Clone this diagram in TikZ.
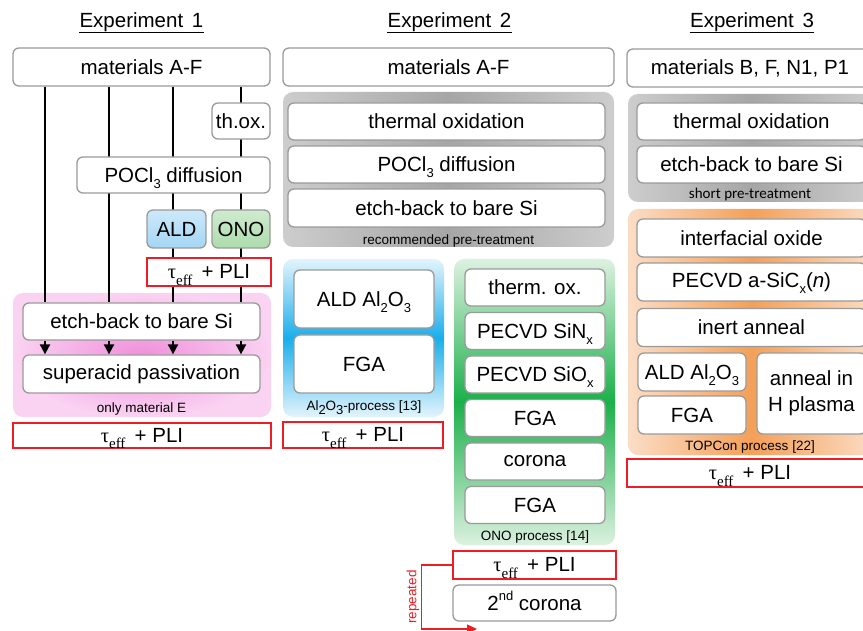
\documentclass[tikz,border=0pt]{standalone}
\usepackage{fontspec}
\setmainfont{Liberation Sans}
\newfontfamily\serif{Liberation Serif}
\newfontfamily\carl{Carlito}
\usetikzlibrary{arrows.meta}
\definecolor{bordergray}{HTML}{9A9A9A}
\definecolor{grayedge}{HTML}{CDCDCD}
\definecolor{graymid}{HTML}{A6A6A6}
\definecolor{blueedge}{HTML}{E3F4FC}
\definecolor{bluemid}{HTML}{1AAEEB}
\definecolor{greenedge}{HTML}{DCF1E0}
\definecolor{greenmid}{HTML}{1BB04A}
\definecolor{orangeedge}{HTML}{FBDDC6}
\definecolor{orangemid}{HTML}{F4A058}
\definecolor{pinkin}{HTML}{F08FDB}
\definecolor{pinkout}{HTML}{FAD2F2}
\definecolor{aldtop}{HTML}{CDE9FB}
\definecolor{aldbot}{HTML}{A4D6F5}
\definecolor{onotop}{HTML}{CFEBCF}
\definecolor{onobot}{HTML}{ACDCAC}
\definecolor{measred}{HTML}{EE1C25}
\newcommand\mainfs{\fontsize{20.5}{26}\selectfont}
\newcommand\smallfs{\fontsize{13.5}{15}\selectfont}
\newcommand\lowsub[1]{\raisebox{-0.3em}[0pt][0pt]{\fontsize{13}{13}\selectfont #1}}
\newcommand\highsup[1]{\raisebox{0.45em}[0pt][0pt]{\fontsize{13}{13}\selectfont #1}}
\newcommand\tpli{{\serif τ}\raisebox{-0.3em}[0pt][0pt]{\fontsize{15}{15}\selectfont\serif eff}\hspace{0.45em}+ PLI}
\begin{document}
\begin{tikzpicture}[x=1pt,y=-1pt,
  box/.style={draw=bordergray, line width=1.3pt, fill=white, rounded corners=6pt,
    inner sep=0pt, align=center, font=\mainfs},
  meas/.style={draw=measred, line width=1.6pt, fill=white, inner sep=0pt, font=\mainfs},
  bgbox/.style={rounded corners=10pt},
  lbl/.style={font=\smallfs, inner sep=0pt},
  title/.style={font=\mainfs, inner sep=0pt, anchor=base},
  flow/.style={line width=2pt, black},
  flowarr/.style={line width=2pt, black, -{Triangle[length=10pt,width=10pt]}},
  ]
\useasboundingbox (0,0) rectangle (863,631);
\clip (0,0) rectangle (863,631);

% ---------- titles ----------
\node[title] (t1) at (141.5,28) {Experiment\hspace{0.15em} 1};
\node[title] (t2) at (449.5,28) {Experiment\hspace{0.15em} 2};
\node[title] (t3) at (752,28) {Experiment\hspace{0.15em} 3};
\foreach \t in {t1,t2,t3}
  \draw[line width=1.2pt] ([yshift=-4.5pt]\t.base west) -- ([yshift=-4.5pt]\t.base east);

% ---------- backgrounds ----------
\shade[bgbox, inner color=pinkin, outer color=pinkout] (13,293) rectangle (271,417);
\shade[bgbox, left color=grayedge, right color=grayedge, middle color=graymid] (283,92) rectangle (614,247);
\shade[bgbox, top color=blueedge, bottom color=blueedge, middle color=bluemid] (283,259) rectangle (444,417);
\shade[bgbox, top color=greenedge, bottom color=greenedge, middle color=greenmid] (454,259) rectangle (615,545);
\shade[bgbox, left color=grayedge, right color=grayedge, middle color=graymid] (628,94) rectangle (875,202);
\shade[bgbox, left color=orangeedge, right color=orangeedge, middle color=orangemid] (628,209) rectangle (875,455);

% ---------- Experiment 1 ----------
\node[box, minimum width=257pt, minimum height=38pt] (m1) at (141.5,67) {materials A-F};
\node[box, minimum width=237pt, minimum height=37pt] (etch1) at (141.5,321.5) {etch-back to bare Si};
\node[box, minimum width=237pt, minimum height=38pt] (super) at (141.5,374) {superacid passivation};
\foreach \xx in {45,109,173,241}{
  \draw[flow] (m1.south -| \xx,0) -- (etch1.north -| \xx,0);
  \draw[flowarr] (etch1.south -| \xx,0) -- (super.north -| \xx,0);
}
\node[box, minimum width=58pt, minimum height=36pt] (thox1) at (241,121) {th.ox.};
\node[box, minimum width=193pt, minimum height=36pt] (pocl1) at (173.5,175) {POCl\lowsub{3} diffusion};
\node[box, top color=aldtop, bottom color=aldbot, minimum width=59pt, minimum height=38pt] (ald1) at (176.5,229) {ALD};
\node[box, top color=onotop, bottom color=onobot, minimum width=58pt, minimum height=38pt] (ono1) at (241,229) {ONO};
\node[meas, minimum width=124pt, minimum height=28pt] (meas1a) at (209,272) {\tpli};
\node[lbl] (l1) at (141.5,409) {only material E};
\node[meas, minimum width=258pt, minimum height=25pt] (meas1b) at (142,435.5) {\tpli};

% ---------- Experiment 2 ----------
\node[box, minimum width=331pt, minimum height=38pt] (m2) at (448.5,67) {materials A-F};
\node[box, minimum width=317pt, minimum height=37pt] (thox2) at (446.5,121.5) {thermal oxidation};
\node[box, minimum width=317pt, minimum height=37pt] (pocl2) at (446.5,164.5) {POCl\lowsub{3} diffusion};
\node[box, minimum width=317pt, minimum height=38pt] (etch2) at (446.5,208) {etch-back to bare Si};
\node[lbl] (l2) at (448.5,241) {recommended pre-treatment};

\node[box, minimum width=140pt, minimum height=58pt] (ald2) at (364,299) {ALD Al\lowsub{2}O\lowsub{3}};
\node[box, minimum width=140pt, minimum height=58pt] (fga2) at (364,364) {FGA};
\node[lbl] (l3) at (364,407) {Al\lowsub{2}O\lowsub{3}-process [13]};
\node[meas, minimum width=160pt, minimum height=26pt] (meas2a) at (363,435) {\tpli};

\node[box, minimum width=140pt, minimum height=37pt] (ox3) at (535,287.5) {therm. ox.};
\node[box, minimum width=140pt, minimum height=37pt] (sin) at (535,331) {PECVD SiN\lowsub{x}};
\node[box, minimum width=140pt, minimum height=37pt] (sio) at (535,374.5) {PECVD SiO\lowsub{x}};
\node[box, minimum width=140pt, minimum height=37pt] (fga3) at (535,418) {FGA};
\node[box, minimum width=140pt, minimum height=37pt] (cor) at (535,461.5) {corona};
\node[box, minimum width=140pt, minimum height=37pt] (fga4) at (535,505) {FGA};
\node[lbl] (l4) at (535,537) {ONO process [14]};
\node[meas, minimum width=163pt, minimum height=28pt] (meas2b) at (534.5,565) {\tpli};
\node[box, minimum width=163pt, minimum height=36pt] (cor2) at (534.5,603) {2\highsup{nd} corona};
\coordinate (rept) at (477,629);
\draw[measred, line width=1.3pt, -{Triangle[length=10pt,width=9pt]}] (meas2b.west) -- ++(-31,0) |- (rept);
\node[lbl, text=measred, rotate=90] (rep) at (413,597) {repeated};

% ---------- Experiment 3 ----------
\node[box, minimum width=246pt, minimum height=38pt] (m3) at (750,68) {materials B, F, N1, P1};
\node[box, minimum width=229pt, minimum height=37pt] (thox4) at (751.5,121.5) {thermal oxidation};
\node[box, minimum width=229pt, minimum height=37pt] (etch4) at (751.5,164.5) {etch-back to bare Si};
\node[lbl, font=\carl\fontsize{15}{17}\selectfont] (l5) at (750,195) {short pre-treatment};
\node[box, minimum width=229pt, minimum height=38pt] (iox) at (751.5,238) {interfacial oxide};
\node[box, minimum width=229pt, minimum height=38pt] (sicx) at (751.5,282) {PECVD a-SiC\lowsub{x}(\textit{n})};
\node[box, minimum width=229pt, minimum height=38pt] (inert) at (751.5,327.5) {inert anneal};
\node[box, minimum width=108pt, minimum height=38pt] (ald3) at (692,372) {ALD Al\lowsub{2}O\lowsub{3}};
\node[box, minimum width=108pt, minimum height=38pt] (fga5) at (692,415) {FGA};
\node[box, minimum width=109pt, minimum height=81pt] (hpl) at (811.5,393.5) {anneal in\\H plasma};
\node[lbl] (l6) at (750,447) {TOPCon process [22]};
\node[meas, minimum width=246pt, minimum height=28pt] (meas3) at (750,473) {\tpli};
\end{tikzpicture}
\end{document}
